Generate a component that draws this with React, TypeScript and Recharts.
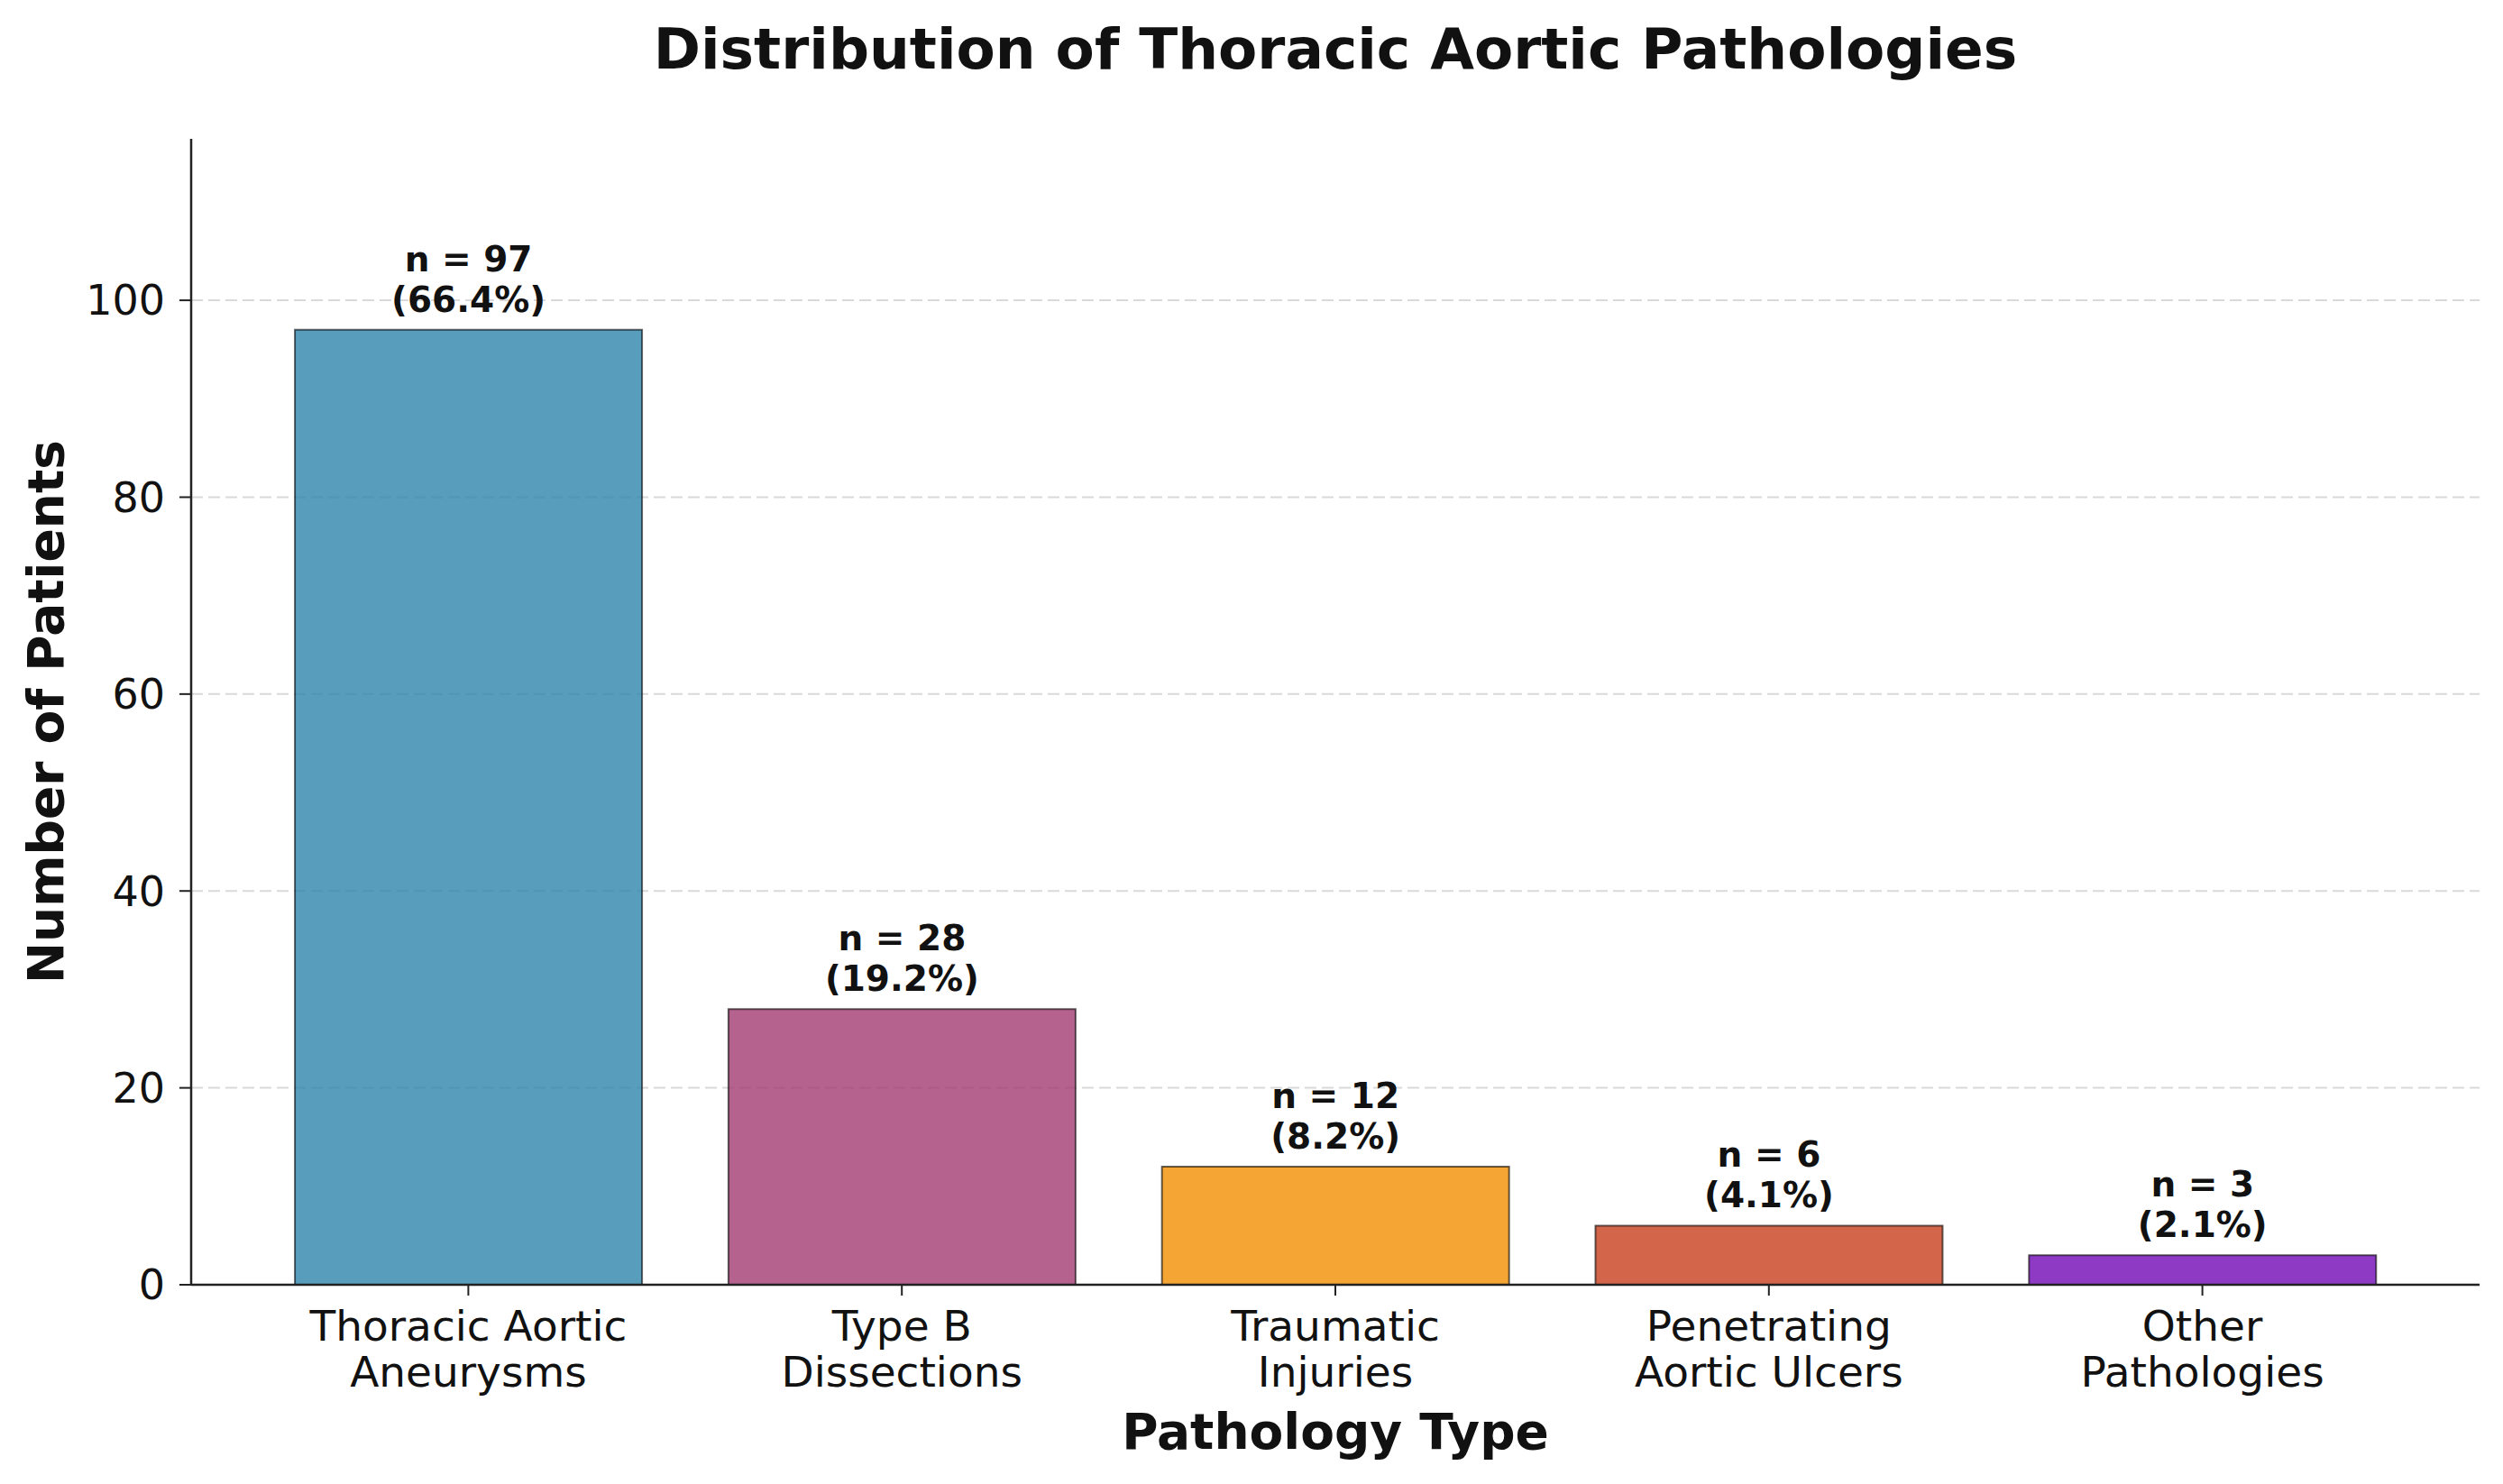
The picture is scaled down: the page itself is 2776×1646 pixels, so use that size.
import React from "react"
import {
  BarChart,
  Bar,
  Cell,
  XAxis,
  YAxis,
  CartesianGrid,
  LabelList,
  Label,
} from "recharts"

// values
const categories = [
  "Thoracic Aortic\nAneurysms",
  "Type B\nDissections",
  "Traumatic\nInjuries",
  "Penetrating\nAortic Ulcers",
  "Other\nPathologies",
]
const patients = [97, 28, 12, 6, 3]
const shares = ["66.4%", "19.2%", "8.2%", "4.1%", "2.1%"]
const barColors = ["#2E86AB", "#A23B72", "#F18F01", "#C73E1D", "#7209B7"]
const yTicks = [0, 20, 40, 60, 80, 100]

const FONT = "'DejaVu Sans', Verdana, sans-serif"
const W = 2760
const H = 1630

const data = categories.map((category, i) => ({
  category,
  patients: patients[i],
  share: shares[i],
}))

const CategoryTick = ({ x, y, payload }: any) => {
  const lines = String(payload.value).split("\n")
  return (
    <text x={x} y={y} textAnchor="middle" fontSize={47} fontFamily={FONT} fill="#111">
      {lines.map((line, i) => (
        <tspan key={i} x={x} dy={i === 0 ? 50 : 51}>
          {line}
        </tspan>
      ))}
    </text>
  )
}

const BarValueLabel = ({ x, y, width, index }: any) => {
  const cx = Number(x) + Number(width) / 2
  const top = Number(y)
  return (
    <text textAnchor="middle" fontSize={39} fontWeight="bold" fontFamily={FONT} fill="#111">
      <tspan x={cx} y={top - 65}>{`n = ${patients[index]}`}</tspan>
      <tspan x={cx} y={top - 20}>{`(${shares[index]})`}</tspan>
    </text>
  )
}

const XTitle = ({ viewBox }: any) => {
  const vb = viewBox || { x: 204, y: 1417, width: 2538 }
  return (
    <text
      x={vb.x + vb.width / 2}
      y={vb.y + 182}
      textAnchor="middle"
      fontSize={55}
      fontWeight="bold"
      fontFamily={FONT}
      fill="#111"
    >
      Pathology Type
    </text>
  )
}

const YTitle = ({ viewBox }: any) => {
  const vb = viewBox || { x: 64, y: 146, height: 1271 }
  const cx = vb.x - 2
  const cy = vb.y + vb.height / 2
  return (
    <text
      x={cx}
      y={cy}
      transform={`rotate(-90, ${cx}, ${cy})`}
      textAnchor="middle"
      fontSize={55}
      fontWeight="bold"
      fontFamily={FONT}
      fill="#111"
    >
      Number of Patients
    </text>
  )
}

export default function App() {
  return (
    <div style={{ position: "relative", width: W, height: H, background: "#fff" }}>
      <div
        style={{
          position: "absolute",
          left: 204,
          width: 2538,
          top: 15,
          textAlign: "center",
          fontFamily: FONT,
          fontWeight: "bold",
          fontSize: 63,
          lineHeight: "63px",
          color: "#111",
        }}
      >
        Distribution of Thoracic Aortic Pathologies
      </div>
      <BarChart
        width={W}
        height={H}
        data={data}
        margin={{ top: 146, right: 18, bottom: 93, left: 64 }}
        barCategoryGap="10%"
      >
        <CartesianGrid
          vertical={false}
          horizontalValues={yTicks.slice(1)}
          stroke="#d9d9d9"
          strokeWidth={2}
          strokeDasharray="13 6"
        />
        <XAxis
          dataKey="category"
          interval={0}
          height={120}
          padding={{ left: 67, right: 67 }}
          tick={<CategoryTick />}
          tickSize={12}
          tickMargin={0}
          axisLine={{ stroke: "#222", strokeWidth: 2.5 }}
          tickLine={{ stroke: "#222", strokeWidth: 2 }}
        >
          <Label content={<XTitle />} />
        </XAxis>
        <YAxis
          width={140}
          domain={[0, 116.4]}
          ticks={yTicks}
          allowDataOverflow
          tickSize={13}
          tickMargin={16}
          tick={{ fontSize: 46, fontFamily: FONT, fill: "#111" }}
          axisLine={{ stroke: "#222", strokeWidth: 2.5 }}
          tickLine={{ stroke: "#222", strokeWidth: 2 }}
        >
          <Label content={<YTitle />} />
        </YAxis>
        <Bar dataKey="patients" isAnimationActive={false} stroke="#000" strokeOpacity={0.6} strokeWidth={2}>
          {data.map((d, i) => (
            <Cell key={d.category} fill={barColors[i]} fillOpacity={0.8} />
          ))}
          <LabelList dataKey="patients" content={<BarValueLabel />} />
        </Bar>
      </BarChart>
    </div>
  )
}
